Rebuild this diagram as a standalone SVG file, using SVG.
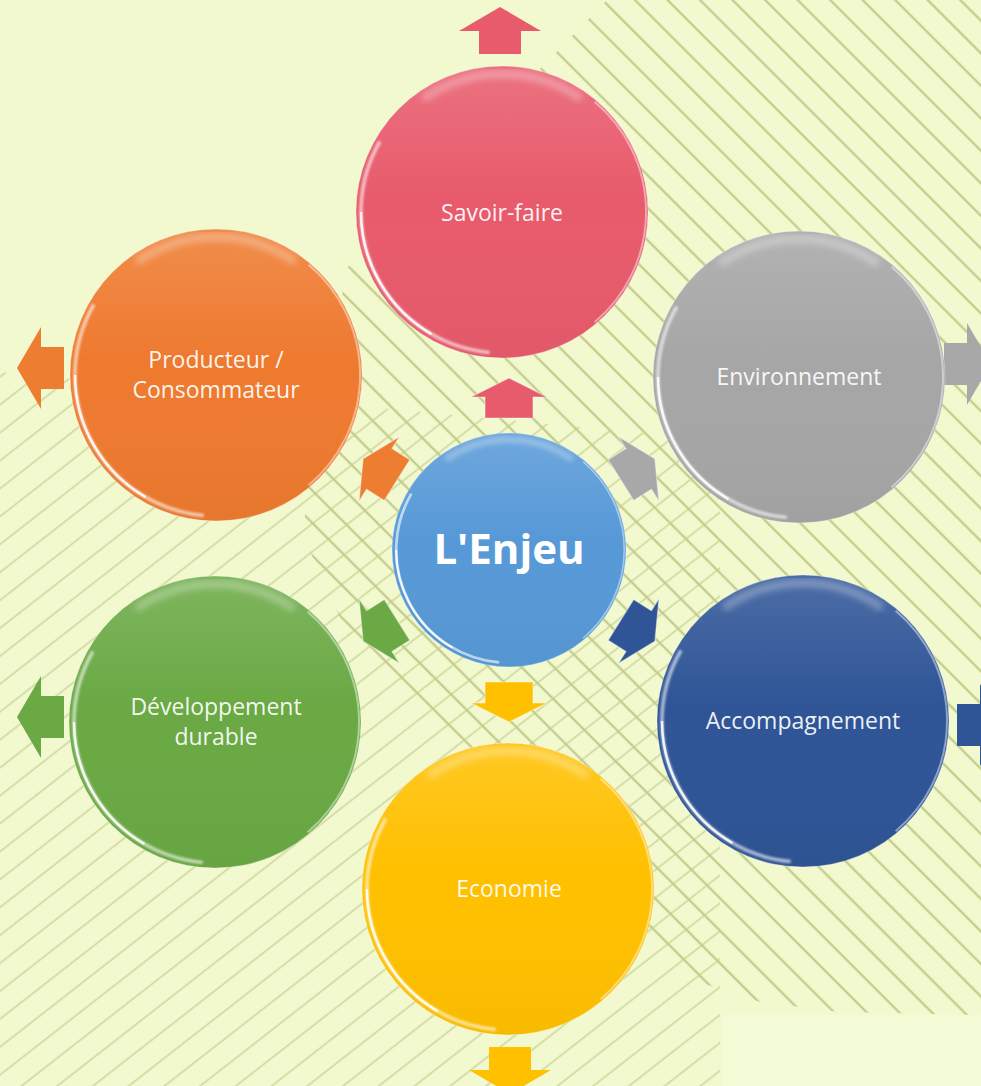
<svg xmlns="http://www.w3.org/2000/svg" xmlns:xlink="http://www.w3.org/1999/xlink" width="981" height="1086" viewBox="0 0 981 1086">
<style>
.lbl{font-family:"Open Sans","Liberation Sans",sans-serif;font-size:23px;fill:#ffffff;fill-opacity:0.93;text-anchor:middle}
.big{font-family:"Open Sans","Liberation Sans",sans-serif;font-size:42px;font-weight:bold;fill:#ffffff;text-anchor:middle}
.rim{fill:none;stroke:#ffffff}
.inarrow{stroke:#ffffff;stroke-opacity:0.4;stroke-width:1.2;stroke-linejoin:round}
</style>
<defs>
<pattern id="hatchB" patternUnits="userSpaceOnUse" width="23" height="23" patternTransform="rotate(45)">
<line x1="-2" y1="11" x2="25" y2="11" stroke="#c4cd8c" stroke-width="2.4"/>
</pattern>
<pattern id="hatchF" patternUnits="userSpaceOnUse" width="22" height="22" patternTransform="rotate(-38)">
<line x1="-2" y1="11" x2="24" y2="11" stroke="#d6dfa8" stroke-width="2.1"/>
</pattern>
<filter id="soft" x="-20%" y="-20%" width="140%" height="140%"><feGaussianBlur stdDeviation="3"/></filter>
<filter id="soft1" x="-20%" y="-20%" width="140%" height="140%"><feGaussianBlur stdDeviation="0.8"/></filter>
<linearGradient id="shade" x1="0" y1="0" x2="0" y2="1">
<stop offset="0" stop-color="#ffffff" stop-opacity="0.14"/>
<stop offset="0.45" stop-color="#ffffff" stop-opacity="0"/>
<stop offset="1" stop-color="#000000" stop-opacity="0.03"/>
</linearGradient>
<g id="gloss">
<circle r="146" fill="url(#shade)"/>
<path class="rim" d="M-79.2,-113 A138,138 0 0 1 79.2,-113" stroke-width="8" stroke-opacity="0.3" filter="url(#soft)"/>
<path class="rim" d="M-12.3,140.5 A141,141 0 0 1 -122.1,-70.5" stroke-width="3.5" stroke-opacity="0.6" filter="url(#soft1)"/>
<path class="rim" d="M-70.5,122.1 A141,141 0 0 1 -141,0" stroke-width="2.5" stroke-opacity="0.85"/>
<path class="rim" d="M92.6,-110.3 A144,144 0 0 1 92.6,110.3" stroke-width="2" stroke-opacity="0.45"/>
<circle r="146" class="rim" stroke-width="1" stroke-opacity="0.3"/>
</g>
<path id="outArrow" d="M0,0 L41,24 L21,24 L21,47 L-21,47 L-21,24 L-41,24 Z"/>
<path id="inArrow" d="M0,-172 L38,-153 L24,-153 L24,-132 L-24,-132 L-24,-153 L-38,-153 Z"/>
</defs>

<g id="background">
<rect width="981" height="1086" fill="#f2f9cf"/>
<polygon points="0,372 720,440 720,1086 0,1086" fill="url(#hatchF)"/>
<polygon points="607,0 981,0 981,1015 840,1012 760,1002 692,980 350,640 305,540 305,500 347,268" fill="url(#hatchB)"/>
<rect x="722" y="1015" width="259" height="71" fill="#f4fbd7"/>
</g>

<g id="connectors">
<use href="#outArrow" transform="translate(500,7)" fill="#e85b6c"/>
<use href="#outArrow" transform="translate(17,368) rotate(-90)" fill="#ed7d31"/>
<use href="#outArrow" transform="translate(17,717) rotate(-90)" fill="#6aa944"/>
<use href="#outArrow" transform="translate(991,364) rotate(90)" fill="#a8a8a8"/>
<use href="#outArrow" transform="translate(1004,725) rotate(90)" fill="#2f5597"/>
<use href="#outArrow" transform="translate(510,1094) rotate(180)" fill="#ffc000"/>
<g transform="translate(509,550)">
<use href="#inArrow" class="inarrow" fill="#e85b6c"/>
<use href="#inArrow" class="inarrow" transform="rotate(-58)" fill="#ed7d31"/>
<use href="#inArrow" class="inarrow" transform="rotate(58)" fill="#a8a8a8"/>
<use href="#inArrow" class="inarrow" transform="rotate(-122)" fill="#6aa944"/>
<use href="#inArrow" class="inarrow" transform="rotate(122)" fill="#2f5597"/>
<use href="#inArrow" class="inarrow" transform="rotate(180)" fill="#ffc000"/>
</g>
</g>

<g id="node-savoir" transform="translate(502,212)">
<circle r="146" fill="#e85b6c"/>
<use href="#gloss"/>
<text class="lbl" x="0" y="9">Savoir-faire</text>
</g>

<g id="node-environnement" transform="translate(799,377)">
<circle r="146" fill="#a6a6a6"/>
<use href="#gloss"/>
<text class="lbl" x="0" y="8">Environnement</text>
</g>

<g id="node-producteur" transform="translate(216,375)">
<circle r="146" fill="#ee7a2f"/>
<use href="#gloss"/>
<text class="lbl" x="0" y="-7">Producteur /</text>
<text class="lbl" x="0" y="23">Consommateur</text>
</g>

<g id="node-developpement" transform="translate(215,722)">
<circle r="146" fill="#6aa944"/>
<use href="#gloss"/>
<text class="lbl" x="1" y="-7">Développement</text>
<text class="lbl" x="1" y="23">durable</text>
</g>

<g id="node-accompagnement" transform="translate(803,721)">
<circle r="146" fill="#2f5597"/>
<use href="#gloss"/>
<text class="lbl" x="0" y="8">Accompagnement</text>
</g>

<g id="node-economie" transform="translate(508,889)">
<circle r="146" fill="#ffc000"/>
<use href="#gloss"/>
<text class="lbl" x="1" y="8">Economie</text>
</g>

<g id="node-enjeu" transform="translate(509,550)">
<circle r="117" fill="#5799d7"/>
<use href="#gloss" transform="scale(0.8)"/>
<text class="big" x="0" y="14">L'Enjeu</text>
</g>
</svg>
